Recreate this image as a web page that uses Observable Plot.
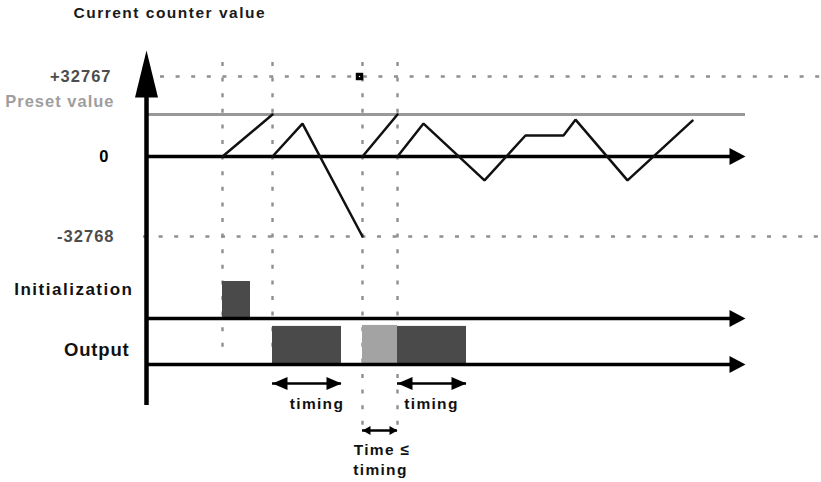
<!DOCTYPE html>
<html><head><meta charset="utf-8">
<script src="https://cdn.jsdelivr.net/npm/d3@7"></script>
<script src="https://cdn.jsdelivr.net/npm/@observablehq/plot@0.6"></script>
<style>body{margin:0;background:#fff} svg{display:block}</style>
</head><body><div id="chart"></div>
<script>
// x: time (ticks), y: counter value (counts); lower lanes placed on the same vertical scale
const counterMax = 32767;
const counterMin = -32768;
const presetValue = 17200;
const markerTimes = [7.6, 12.6, 21.6, 25.1];
const markerBottoms = [-79500, -79500, -112200, -112200];
const counterTime  = [7.6, 12.6,   12.6, 15.6, 21.6,   21.6, 25.1,   25.1, 27.7, 33.8, 37.9, 41.7, 42.9, 48.1, 54.6];
const counterValue = [0, 17200,    0, 13500, -32768,   0, 17200,     0, 13500, -9800, 8600, 8600, 15100, -9800, 14700];
const counterSeg   = [1, 1,        2, 2, 2,            3, 3,         4, 4, 4, 4, 4, 4, 4, 4];
const initStart = [7.6], initEnd = [10.4];
const outStart = [12.6, 21.6, 25.1], outEnd = [19.5, 25.1, 32.0], outKind = ["on", "short", "on"];
const initBase = -66350, initHigh = -51200;
const outBase = -85200, outHigh = -69600;
const timingStart = [12.6, 25.1, 21.6], timingEnd = [19.5, 32.0, 25.1], timingLevel = [-93000, -93000, -112200], timingSize = ["big", "big", "small"];
const levelLabels = ["+32767", "Preset value", "0", "-32768"];
const levelLabelValues = [counterMax, 22300, 0, counterMin];
const laneLabels = ["Initialization", "Output"];
const laneLabelLevels = [-54500, -79100];

const rows = (n, f) => d3.range(n).map(f);
const counter = rows(counterTime.length, i => ({t: counterTime[i], v: counterValue[i], s: counterSeg[i]}));
const outs = rows(outStart.length, i => ({x1: outStart[i], x2: outEnd[i], k: outKind[i]}));
const timings = rows(timingStart.length, i => ({x1: timingStart[i], x2: timingEnd[i], y: timingLevel[i], k: timingSize[i]}));
const markers = rows(markerTimes.length, i => ({x: markerTimes[i], y2: markerBottoms[i]}));

const tri = (pts) => ({draw(ctx) { ctx.moveTo(pts[0][0], pts[0][1]); ctx.lineTo(pts[1][0], pts[1][1]); ctx.lineTo(pts[2][0], pts[2][1]); ctx.closePath(); }});
const upHead = tri([[0,0],[-11.5,47],[11.5,47]]);
const rightHead = tri([[0,0],[-16,-8.5],[-16,8.5]]);
const tRight = tri([[0,0],[-15,-6.5],[-15,6.5]]);
const tLeft = tri([[0,0],[15,-6.5],[15,6.5]]);
const sRight = tri([[0,0],[-8,-4.5],[-8,4.5]]);
const sLeft = tri([[0,0],[8,-4.5],[8,4.5]]);

const dotted = {stroke: "#8f8f8f", strokeWidth: 2.4, strokeDasharray: "4,11.6"};
const font = "Liberation Sans, Arial, sans-serif";
const txt = (data, opts, spacing) => Plot.text(data, {text: d => d, fontWeight: "bold", ariaDescription: "ls" + spacing, ...opts});

const chart = Plot.plot({
  width: 821, height: 482, margin: 0,
  x: {domain: [-14.6, 67.5], axis: null},
  y: {domain: [-133530, 63898], axis: null},
  style: {fontFamily: font, background: "#fff"},
  marks: [
    // dotted guides
    Plot.ruleY([counterMax], {x1: 1.4, x2: 67.5, ...dotted}),
    Plot.ruleY([counterMin], {x1: -0.3, x2: 67.5, ...dotted}),
    Plot.ruleX(markers, {x: "x", y1: 38500, y2: "y2", ...dotted}),
    // preset
    Plot.ruleY([presetValue], {x1: 0.1, x2: 59.9, stroke: "#999", strokeWidth: 3}),
    // bars
    Plot.rect(initStart.map((s, i) => ({x1: s, x2: initEnd[i]})), {x1: "x1", x2: "x2", y1: initBase - 700, y2: initHigh, fill: "#4a4a4a"}),
    Plot.rect(outs, {x1: "x1", x2: "x2", y1: outBase + 400, y2: d => d.k === "short" ? outHigh + 400 : outHigh, fill: d => d.k === "short" ? "#a3a3a3" : "#4a4a4a"}),
    // axes
    Plot.ruleY([0, initBase, outBase], {x1: 0, x2: 58.5, stroke: "#000", strokeWidth: 3.5}),
    Plot.dot([0, initBase, outBase], {x: 59.9, y: d => d, symbol: rightHead, r: 5, fill: "#000", stroke: "none"}),
    Plot.ruleX([0], {y1: -102000, y2: 25000, stroke: "#000", strokeWidth: 4.5}),
    Plot.dot([43418], {x: 0, y: d => d, symbol: upHead, r: 5, fill: "#000", stroke: "none"}),
    // counter waveform
    Plot.line(counter, {x: "t", y: "v", z: "s", stroke: "#111", strokeWidth: 2.5, strokeLinejoin: "miter"}),
    // marker square
    Plot.dot([counterMax], {x: 21.3, y: d => d, symbol: "square", r: 4.2, fill: "#000", stroke: "none"}),
    Plot.dot([counterMax], {x: 21.3, y: d => d, symbol: "square", r: 0.7, fill: "#fff", stroke: "none"}),
    // timing arrows
    Plot.ruleY(timings, {x1: "x1", x2: "x2", y: "y", stroke: "#000", strokeWidth: 2.5}),
    Plot.dot(timings.filter(d => d.k === "big"), {x: "x2", y: "y", symbol: tRight, r: 5, fill: "#000", stroke: "none"}),
    Plot.dot(timings.filter(d => d.k === "big"), {x: "x1", y: "y", symbol: tLeft, r: 5, fill: "#000", stroke: "none"}),
    Plot.dot(timings.filter(d => d.k === "small"), {x: "x2", y: "y", symbol: sRight, r: 5, fill: "#000", stroke: "none"}),
    Plot.dot(timings.filter(d => d.k === "small"), {x: "x1", y: "y", symbol: sLeft, r: 5, fill: "#000", stroke: "none"}),
    // texts
    txt(["Current counter value"], {x: -7.3, y: 58700, textAnchor: "start", fontSize: 15.5, fill: "#1a1a1a"}, 1.5),
    txt([levelLabels[0]], {x: -3.5, y: levelLabelValues[0], textAnchor: "end", fontSize: 16.5, fill: "#4d4d4d"}, 1),
    txt([levelLabels[1]], {x: -3.2, y: levelLabelValues[1], textAnchor: "end", fontSize: 16.5, fill: "#9e9e9e"}, 1),
    txt([levelLabels[2]], {x: -3.7, y: levelLabelValues[2], textAnchor: "end", fontSize: 16.5, fill: "#000"}, 1),
    txt([levelLabels[3]], {x: -3.2, y: levelLabelValues[3], textAnchor: "end", fontSize: 16.5, fill: "#4d4d4d"}, 1),
    txt([laneLabels[0]], {x: -1.3, y: laneLabelLevels[0], textAnchor: "end", fontSize: 17, fill: "#111"}, 1.5),
    txt([laneLabels[1]], {x: -1.7, y: laneLabelLevels[1], textAnchor: "end", fontSize: 18.5, fill: "#111"}, 0.8),
    txt(["timing", "timing"], {x: (d, i) => i === 0 ? 17.05 : 28.5, y: -101400, fontSize: 15.5, fill: "#111"}, 1.3),
    txt(["Time ≤"], {x: 23.55, y: -120300, fontSize: 15.5, fill: "#111"}, 1.3),
    txt(["timing"], {x: 23.4, y: -128600, fontSize: 15.5, fill: "#111"}, 1.3)
  ]
});
d3.select(chart).selectAll("g[aria-description]").each(function () {
  const s = this.getAttribute("aria-description");
  if (s && s.startsWith("ls")) d3.select(this).selectAll("text").attr("letter-spacing", s.slice(2) + "px");
});
document.getElementById("chart").appendChild(chart);
</script>
</body></html>
